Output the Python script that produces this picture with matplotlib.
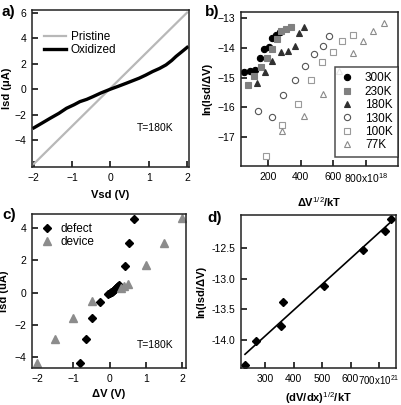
import matplotlib
matplotlib.use('Agg')
import matplotlib.pyplot as plt
import numpy as np

plt.rcParams['font.family'] = ['Liberation Sans', 'DejaVu Sans']
plt.rcParams['font.size'] = 7.5
plt.rcParams['mathtext.fontset'] = 'custom'
plt.rcParams['mathtext.rm'] = 'Liberation Sans'
plt.rcParams['mathtext.bf'] = 'Liberation Sans:bold'

# --- panel a: I-V curves at 180 K
pristine_v = [-2.0, 2.0]
pristine_i = [-5.85, 6.0]
oxidized_v = [-2.0, -1.8, -1.58, -1.35, -1.15, -0.95, -0.8, -0.62, -0.46, -0.25, 0.0,
              0.2, 0.41, 0.58, 0.75, 0.92, 1.1, 1.28, 1.45, 1.6, 1.71, 1.85, 2.0]
oxidized_i = [-3.03, -2.68, -2.29, -1.9, -1.5, -1.22, -0.98, -0.8, -0.59, -0.3, 0.0,
              0.22, 0.46, 0.66, 0.86, 1.1, 1.38, 1.62, 1.9, 2.25, 2.56, 2.9, 3.27]

# --- panel b: ln(Isd/dV) vs dV^1/2/kT for several temperatures
b_series = {
    '300K': ([55, 90, 122, 153, 176, 206, 226, 249, 273],
             [-14.80, -14.78, -14.74, -14.35, -14.04, -13.96, -13.66, -13.57, -13.46]),
    '230K': ([78, 116, 159, 192, 226, 253, 281, 308, 339],
             [-15.25, -14.95, -14.65, -14.35, -14.05, -13.70, -13.43, -13.37, -13.29]),
    '180K': ([131, 182, 226, 278, 324, 365, 391, 422],
             [-15.17, -14.82, -14.43, -14.15, -14.10, -13.94, -13.49, -13.29]),
    '130K': ([141, 223, 294, 365, 426, 481, 534, 575],
             [-16.14, -16.33, -15.58, -15.08, -14.61, -14.21, -13.93, -13.59]),
    '100K': ([188, 287, 382, 463, 532, 596, 651, 722],
             [-17.63, -16.61, -15.89, -15.08, -14.49, -14.13, -13.79, -13.56]),
    '77K': ([287, 420, 534, 636, 718, 783, 844, 911],
            [-16.81, -16.28, -15.56, -14.78, -14.19, -13.78, -13.44, -13.18]),
}
b_styles = {
    '300K': dict(marker='o', color='black', mfc='black', mec='black'),
    '230K': dict(marker='s', color='#808080', mfc='#808080', mec='#808080'),
    '180K': dict(marker='^', color='#303030', mfc='#303030', mec='#303030'),
    '130K': dict(marker='o', color='#555555', mfc='none', mec='#555555'),
    '100K': dict(marker='s', color='#9a9a9a', mfc='none', mec='#9a9a9a'),
    '77K': dict(marker='^', color='#8a8a8a', mfc='none', mec='#8a8a8a'),
}

# --- panel c: defect vs device
defect_v = [-0.82, -0.66, -0.48, -0.28, -0.04, 0.0, 0.03, 0.06, 0.09, 0.12, 0.15,
            0.18, 0.2, 0.22, 0.25, 0.41, 0.53, 0.67]
defect_i = [-4.40, -2.91, -1.57, -0.58, -0.10, -0.02, 0.03, 0.06, 0.1, 0.15, 0.2,
            0.28, 0.33, 0.4, 0.48, 1.64, 3.05, 4.56]
device_v = [-2.0, -1.5, -1.0, -0.5, 0.3, 0.38, 0.5, 1.0, 1.5, 2.0]
device_i = [-4.4, -2.9, -1.55, -0.5, 0.3, 0.38, 0.55, 1.7, 3.1, 4.62]

# --- panel d: ln(Isd/dV) vs (dV/dx)^1/2/kT
d_x = [230, 269, 356, 364, 507, 642, 720, 741]
d_y = [-14.41, -14.02, -13.77, -13.38, -13.12, -12.53, -12.22, -12.02]

W, H = 401, 405
fig = plt.figure(figsize=(W / 100, H / 100), dpi=100)


def box(l, t, r, b):
    return fig.add_axes([l / W, 1 - b / H, (r - l) / W, (b - t) / H])


def style(ax):
    for s in ax.spines.values():
        s.set_linewidth(1.1)
        s.set_color('#222222')
    ax.tick_params(direction='in', length=4.5, width=1.1, labelsize=7.5,
                   top=False, right=False, pad=4)


label_kw = dict(fontsize=8, fontweight='bold')

# a
ax = box(32, 10, 189, 167)
style(ax)
ax.plot(pristine_v, pristine_i, color='#b8b8b8', lw=1.6, label='Pristine')
ax.plot(oxidized_v, oxidized_i, color='black', lw=2.4, label='Oxidized')
ax.set_xlim(-2.05, 2.05)
ax.set_ylim(-6.1, 6.2)
ax.set_xticks([-2, -1, 0, 1, 2])
ax.set_yticks([-4, -2, 0, 2, 4, 6])
ax.set_xlabel('Vsd (V)', labelpad=5, **label_kw)
ax.set_ylabel('Isd (\u03bcA)', labelpad=2, **label_kw)
ax.legend(loc='upper left', frameon=False, fontsize=8.5, handlelength=1.9,
          handletextpad=0.4, borderaxespad=0.6, labelspacing=0.05,
          bbox_to_anchor=(0.0, 0.94))
ax.text(0.7, -3.05, 'T=180K', fontsize=7.5, va='center')
fig.text(2 / W, 1 - 12 / H, 'a)', fontsize=11, fontweight='bold', va='center')

# b
ax = box(241, 12, 398, 166)
style(ax)
for name, (xs, ys) in b_series.items():
    st = b_styles[name]
    ax.plot(xs, ys, ls='none', ms=4.5, mew=0.8, label=name, **st)
ax.set_xlim(35, 995)
ax.set_ylim(-17.97, -12.8)
ax.set_xticks([200, 400, 600, 800])
ax.set_xticklabels(['200', '400', '600', '800x10$^{18}$'])
ax.set_yticks([-17, -16, -15, -14, -13])
ax.set_xlabel('\u0394V$^{1/2}$/kT', labelpad=7, **label_kw)
ax.set_ylabel('ln(Isd/\u0394V)', labelpad=4, **label_kw)
leg = ax.legend(loc='lower right', fontsize=8.5, handlelength=1.2,
                bbox_to_anchor=(1.0, 0.06), borderaxespad=0.0,
                labelspacing=0.12, fancybox=False, edgecolor='#222222',
                handletextpad=0.9, borderpad=0.45)
leg.get_frame().set_linewidth(1.1)
fig.text(205 / W, 1 - 12 / H, 'b)', fontsize=11, fontweight='bold', va='center')

# c
ax = box(32, 214, 186, 368)
style(ax)
ax.plot(defect_v, defect_i, ls='none', marker='D', ms=4.5, color='black', label='defect')
ax.plot(device_v, device_i, ls='none', marker='^', ms=6, color='#8c8c8c', label='device')
ax.set_xlim(-2.14, 2.1)
ax.set_ylim(-4.68, 4.87)
ax.set_xticks([-2, -1, 0, 1, 2])
ax.set_yticks([-4, -2, 0, 2, 4])
ax.set_xlabel('\u0394V (V)', labelpad=4, **label_kw)
ax.set_ylabel('Isd (uA)', labelpad=4, **label_kw)
ax.legend(loc='upper left', frameon=False, fontsize=8.5, handlelength=1.0,
          borderaxespad=0.4, labelspacing=0.05, handletextpad=0.6)
ax.text(0.75, -3.27, 'T=180K', fontsize=7.5, va='center')
fig.text(2 / W, 1 - 215 / H, 'c)', fontsize=11, fontweight='bold', va='center')

# d
ax = box(241, 215, 396, 368)
style(ax)
ax.plot(d_x, d_y, ls='none', marker='D', ms=4.5, color='black')
k, c0 = np.polyfit(d_x, d_y, 1)
fx = np.array([min(d_x), max(d_x)])
ax.plot(fx, k * fx + c0, color='black', lw=1.2)
ax.set_xlim(216, 759)
ax.set_ylim(-14.46, -11.96)
ax.set_xticks([300, 400, 500, 600, 700])
ax.set_xticklabels(['300', '400', '500', '600', '700x10$^{21}$'])
ax.get_xticklabels()[-1].set_fontsize(7)
ax.set_yticks([-14.0, -13.5, -13.0, -12.5])
ax.set_yticklabels(['-14.0', '-13.5', '-13.0', '-12.5'])
ax.set_xlabel('(dV/dx)$^{1/2}$/kT', labelpad=2, **label_kw)
ax.set_ylabel('ln(Isd/\u0394V)', labelpad=4, **label_kw)
fig.text(207 / W, 1 - 218 / H, 'd)', fontsize=11, fontweight='bold', va='center')

fig.savefig('out.png', dpi=100)
